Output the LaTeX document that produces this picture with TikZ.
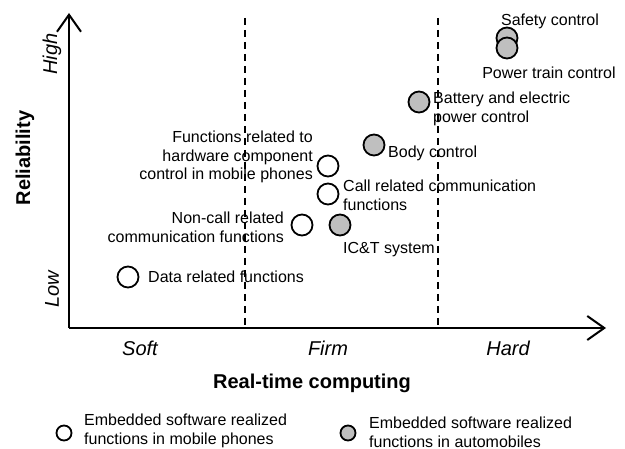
\documentclass[tikz,border=0pt]{standalone}
\usepackage{fontspec}
\setmainfont{Liberation Sans}
\usetikzlibrary{arrows.meta}
\begin{document}
\begin{tikzpicture}[x=1pt,y=-1pt,
  lbl/.style={inner sep=0pt,font=\fontsize{16}{18.8}\selectfont},
  axlbl/.style={inner sep=0pt,font=\fontsize{20}{24}\selectfont\bfseries},
  tick/.style={inner sep=0pt,font=\fontsize{20}{24}\selectfont\itshape},
  wdot/.style={circle,draw=black,line width=1.8pt,fill=white,minimum size=21pt,inner sep=0pt},
  gdot/.style={circle,draw=black,line width=1.8pt,fill=black!25,minimum size=21pt,inner sep=0pt},
  axis/.style={line width=2pt,-{Straight Barb[length=17pt,width=24pt,line width=2pt]}},
  divider/.style={line width=1.5pt,dash pattern=on 7pt off 5pt}]
\useasboundingbox (0,0) rectangle (625,449);
% axes
\coordinate (o) at (69,328);
\coordinate (ytop) at (69,13);
\coordinate (xend) at (606,328);
\draw[axis] (o) -- (ytop);
\draw[axis] (o) -- (xend);
% dividers
\coordinate (d1t) at (245,18); \coordinate (d1b) at (245,328);
\coordinate (d2t) at (438,18); \coordinate (d2b) at (438,328);
\draw[divider] (d1t) -- (d1b);
\draw[divider] (d2t) -- (d2b);
% axis labels
\node[axlbl,rotate=90] (rel) at (25,158) {Reliability};
\node[tick,rotate=90] (high) at (52,54) {High};
\node[tick,rotate=90] (low) at (52,289) {Low};
\node[tick] (soft) at (140,348) {Soft};
\node[tick] (firm) at (328,348) {Firm};
\node[tick] (hard) at (508,348) {Hard};
\node[axlbl] (rtc) at (312,383) {Real-time computing};
% points
\node[wdot] (data) at (128,277) {};
\node[lbl,anchor=west] (datal) at (148,277) {Data related functions};
\node[wdot] (noncall) at (302,225) {};
\node[lbl,anchor=east,align=right] (noncalll) at (284,227) {Non-call related\\communication functions};
\node[gdot] (ict) at (340,225) {};
\node[lbl,anchor=west] (ictl) at (343,250) {IC\&T system};
\node[wdot] (hw) at (328,166) {};
\node[lbl,anchor=east,align=right] (hwl) at (313,157) {Functions related to\\hardware component\\control in mobile phones};
\node[wdot] (call) at (328,194) {};
\node[lbl,anchor=west,align=left] (calll) at (343,195) {Call related communication\\functions};
\node[gdot] (body) at (374,145) {};
\node[lbl,anchor=west] (bodyl) at (388,153) {Body control};
\node[gdot] (batt) at (419,102) {};
\node[lbl,anchor=west,align=left] (battl) at (433,109) {Battery and electric\\power control};
\node[gdot] (safe) at (507,38) {};
\node[gdot] (power) at (507,48) {};
\node[lbl] (safel) at (550,21) {Safety control};
\node[lbl] (powerl) at (549,73) {Power train control};
% legend
\node[wdot,minimum size=15pt] (legw) at (64,433) {};
\node[lbl,anchor=west,align=left] (legwl) at (84,431) {Embedded software realized\\functions in mobile phones};
\node[gdot,minimum size=15pt] (legg) at (348,433) {};
\node[lbl,anchor=west,align=left] (leggl) at (369,432) {Embedded software realized\\functions in automobiles};
\end{tikzpicture}
\end{document}
